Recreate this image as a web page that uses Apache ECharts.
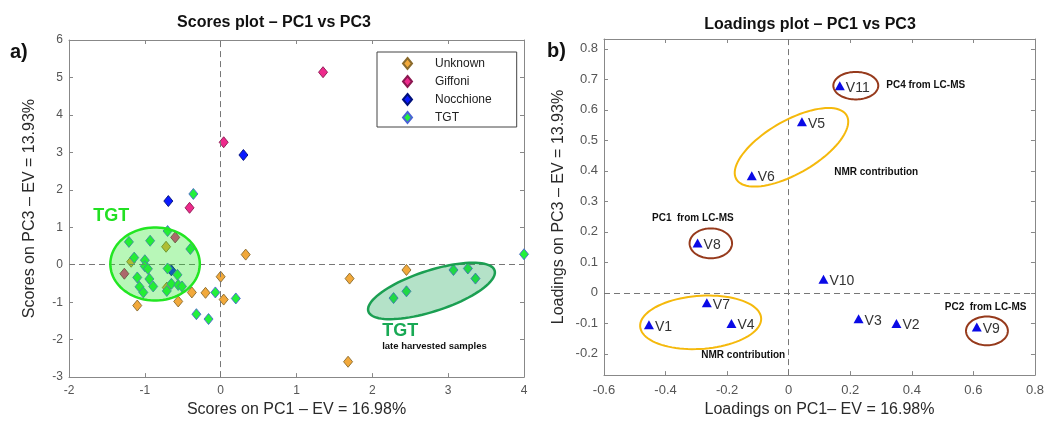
<!DOCTYPE html>
<html>
<head>
<meta charset="utf-8">
<script src="https://cdn.jsdelivr.net/npm/echarts@6/dist/echarts.min.js"></script>
<style>
  html, body { margin: 0; background: #fff; }
  #chart { width: 1047px; height: 423px; }
</style>
</head>
<body>
<div id="chart"></div>
<script>
const FONT = '"Liberation Sans", Arial, Helvetica, sans-serif';

// scores plot, PC1 vs PC3 - one array per class
const unknownScores = [
  [0.33, 0.27], [1.70, -0.37], [1.68, -2.59], [2.45, -0.14], [0.00, -0.32],
  [0.04, -0.93], [-0.20, -0.75], [-0.38, -0.74], [-0.56, -0.98], [-1.10, -1.09],
  [-0.72, 0.48], [-1.18, 0.08], [-0.71, -0.61]
];
const giffoniScores = [
  [1.35, 5.14], [0.04, 3.27], [-0.41, 1.52], [-0.60, 0.73], [-1.27, -0.24]
];
const nocchioneScores = [
  [0.30, 2.93], [-0.69, 1.70], [-0.65, -0.15]
];
const tgtScores = [
  [-0.36, 1.89], [4.00, 0.28], [3.07, -0.14], [3.26, -0.10], [3.36, -0.37],
  [2.45, -0.71], [2.28, -0.89], [0.20, -0.90], [-0.07, -0.74], [-0.16, -1.45],
  [-0.32, -1.32], [-1.21, 0.61], [-1.14, 0.19], [-0.93, 0.64], [-1.00, 0.12],
  [-1.00, -0.04], [-0.96, -0.11], [-1.10, -0.34], [-0.94, -0.38], [-1.07, -0.59],
  [-1.02, -0.74], [-0.89, -0.58], [-0.70, 0.90], [-0.40, 0.42], [-0.70, -0.10],
  [-0.57, -0.27], [-0.65, -0.51], [-0.56, -0.54], [-0.51, -0.58], [-0.71, -0.70]
];

// loadings plot, PC1 vs PC3
const loadNames = ['V1', 'V2', 'V3', 'V4', 'V5', 'V6', 'V7', 'V8', 'V9', 'V10', 'V11'];
const loadPC1 = [-0.454, 0.350, 0.227, -0.186, 0.043, -0.120, -0.266, -0.296, 0.611, 0.113, 0.166];
const loadPC3 = [-0.105, -0.101, -0.085, -0.101, 0.561, 0.384, -0.033, 0.163, -0.112, 0.044, 0.679];

const loadTicksY = [-0.2, -0.1, 0, 0.1, 0.2, 0.3, 0.4, 0.5, 0.6, 0.7, 0.8];

// hand drawn rings: centre x, centre y, half axis (x units), half axis (y units), tilt deg
const scoreRings = [[-0.865, 0.02, 0.59, 0.976, 0], [2.78, -0.70, 0.875, 0.545, 18]];
const scoreRingStyle = [
  { fill: 'rgba(40,232,40,0.33)', stroke: '#22e622', width: 2.5 },
  { fill: 'rgba(28,168,88,0.33)', stroke: '#1b9f52', width: 2.5 }
];
const loadRings = [
  [0.009, 0.477, 0.207, 0.087, 30], [-0.286, -0.097, 0.197, 0.087, 4],
  [0.218, 0.679, 0.073, 0.045, 0], [-0.253, 0.162, 0.069, 0.049, 0], [0.644, -0.125, 0.068, 0.047, 0]
];
const yellow = { fill: 'none', stroke: '#f5b90c', width: 2 };
const brown = { fill: 'none', stroke: '#963a1c', width: 2 };
const loadRingStyle = [yellow, yellow, brown, brown, brown];

const scoreNotes = [
  { text: 'TGT', x: -1.68, y: 1.30, font: 'bold 18px ' + FONT, color: '#22e022' },
  { text: 'TGT', x: 2.13, y: -1.77, font: 'bold 18px ' + FONT, color: '#19a955' },
  { text: 'late harvested samples', x: 2.13, y: -2.19, font: 'bold 9.5px ' + FONT, color: '#111' }
];
const noteFont = 'bold 10px ' + FONT;
const loadNotes = [
  { text: 'PC4 from LC-MS', x: 0.317, y: 0.680, font: noteFont, color: '#111' },
  { text: 'NMR contribution', x: 0.148, y: 0.395, font: noteFont, color: '#111' },
  { text: 'PC1  from LC-MS', x: -0.444, y: 0.243, font: noteFont, color: '#111' },
  { text: 'PC2  from LC-MS', x: 0.507, y: -0.046, font: noteFont, color: '#111' },
  { text: 'NMR contribution', x: -0.284, y: -0.205, font: noteFont, color: '#111' }
];

const chart = echarts.init(document.getElementById('chart'));

function ringItem(styles) {
  return function (params, api) {
    const c = api.coord([api.value(0), api.value(1)]);
    const rx = api.size([api.value(2), 0])[0];
    const ry = api.size([0, api.value(3)])[1];
    const t = api.value(4) * Math.PI / 180;
    const pts = [];
    for (let i = 0; i < 90; i++) {
      const a = i / 90 * Math.PI * 2;
      const ex = rx * Math.cos(a), ey = ry * Math.sin(a);
      pts.push([c[0] + ex * Math.cos(t) - ey * Math.sin(t), c[1] - (ex * Math.sin(t) + ey * Math.cos(t))]);
    }
    const s = styles[params.dataIndex];
    return { type: 'polygon', shape: { points: pts }, style: { fill: s.fill, stroke: s.stroke, lineWidth: s.width } };
  };
}

function noteItem(notes) {
  return function (params, api) {
    const n = notes[params.dataIndex];
    const c = api.coord([api.value(0), api.value(1)]);
    return {
      type: 'text', x: c[0], y: c[1],
      style: { text: n.text, font: n.font, fill: n.color, verticalAlign: 'middle', textVerticalAlign: 'middle' }
    };
  };
}

const axisColor = '#888';
function xAxisOf(grid, pos, min, max, interval, extra) {
  return Object.assign({
    type: 'value', gridIndex: grid, position: pos, min: min, max: max, interval: interval,
    axisLine: { show: true, onZero: false, lineStyle: { color: axisColor } },
    axisTick: { show: true, inside: true, length: 4, lineStyle: { color: axisColor } },
    axisLabel: { show: pos === 'bottom', color: '#555', fontFamily: FONT },
    splitLine: { show: false }
  }, extra);
}
function yAxisOf(grid, pos, min, max, interval, extra) {
  return Object.assign({
    type: 'value', gridIndex: grid, position: pos, min: min, max: max, interval: interval,
    axisLine: { show: true, onZero: false, lineStyle: { color: axisColor } },
    axisTick: { show: true, inside: true, length: 4, lineStyle: { color: axisColor } },
    axisLabel: { show: pos === 'left', color: '#555', fontFamily: FONT },
    splitLine: { show: false }
  }, extra);
}

const nameStyle = { fontSize: 16, color: '#2a2a2a', fontFamily: FONT };
const zeroLine = {
  silent: true, symbol: 'none', label: { show: false },
  lineStyle: { color: '#777', type: [6, 4], width: 1 },
  data: [{ xAxis: 0 }, { yAxis: 0 }]
};

function diamonds(name, data, fill, edge) {
  return {
    name: name, type: 'scatter', xAxisIndex: 0, yAxisIndex: 0, data: data,
    symbol: 'diamond', symbolSize: [9, 11],
    itemStyle: { color: fill, borderColor: edge, borderWidth: 0.9, opacity: 1 },
    z: 3
  };
}

const option = {
  animation: false,
  textStyle: { fontFamily: FONT },
  grid: [
    { left: 69, top: 40, width: 455, height: 338 },
    { left: 604, top: 39, width: 433, height: 341 }
  ],
  xAxis: [
    xAxisOf(0, 'bottom', -2, 4, 1, {
      name: 'Scores on PC1 – EV = 16.98%', nameLocation: 'middle', nameGap: 23, nameTextStyle: nameStyle,
      axisLabel: { show: true, color: '#555', fontSize: 12, margin: 8, fontFamily: FONT }
    }),
    xAxisOf(0, 'top', -2, 4, 1),
    xAxisOf(1, 'bottom', -0.6, 0.8, 0.2, {
      name: 'Loadings on PC1– EV = 16.98%', nameLocation: 'middle', nameGap: 24, nameTextStyle: nameStyle,
      axisLabel: { show: true, color: '#555', fontSize: 13, margin: 9, fontFamily: FONT }
    }),
    xAxisOf(1, 'top', -0.6, 0.8, 0.2)
  ],
  yAxis: [
    yAxisOf(0, 'left', -3, 6, 1, {
      name: 'Scores on PC3 – EV = 13.93%', nameLocation: 'middle', nameGap: 31, nameTextStyle: nameStyle,
      axisLabel: { show: true, color: '#555', fontSize: 12, margin: 6, fontFamily: FONT }
    }),
    yAxisOf(0, 'right', -3, 6, 1),
    yAxisOf(1, 'left', -0.27, 0.832, null, {
      name: 'Loadings on PC3 – EV = 13.93%', nameLocation: 'middle', nameGap: 37, nameTextStyle: nameStyle,
      axisLabel: { show: true, color: '#555', fontSize: 13, margin: 6, fontFamily: FONT, customValues: loadTicksY },
      axisTick: { show: true, inside: true, length: 4, lineStyle: { color: axisColor }, customValues: loadTicksY }
    }),
    yAxisOf(1, 'right', -0.27, 0.832, null, {
      axisTick: { show: true, inside: true, length: 4, lineStyle: { color: axisColor }, customValues: loadTicksY }
    })
  ],
  legend: {
    data: ['Unknown', 'Giffoni', 'Nocchione', 'TGT'],
    orient: 'vertical', left: 377, top: 52,
    padding: [5, 25, 3, 25],
    itemWidth: 9, itemHeight: 11, itemGap: 5,
    borderColor: '#444', borderWidth: 1,
    textStyle: { fontSize: 12, color: '#222', fontFamily: FONT, lineHeight: 11, padding: [0, 0, 0, 18] }
  },
  graphic: [
    { type: 'text', x: 274, y: 23, style: { text: 'Scores plot – PC1 vs PC3', font: 'bold 16px ' + FONT, fill: '#111', align: 'center', textAlign: 'center', verticalAlign: 'middle', textVerticalAlign: 'middle' } },
    { type: 'text', x: 810, y: 25, style: { text: 'Loadings plot – PC1 vs PC3', font: 'bold 16px ' + FONT, fill: '#111', align: 'center', textAlign: 'center', verticalAlign: 'middle', textVerticalAlign: 'middle' } },
    { type: 'text', x: 10, y: 52, style: { text: 'a)', font: 'bold 20px ' + FONT, fill: '#111', verticalAlign: 'middle', textVerticalAlign: 'middle' } },
    { type: 'text', x: 547, y: 51, style: { text: 'b)', font: 'bold 20px ' + FONT, fill: '#111', verticalAlign: 'middle', textVerticalAlign: 'middle' } }
  ],
  series: [
    Object.assign(diamonds('Unknown', unknownScores, '#f2a93b', '#8a6a2c'), { markLine: zeroLine }),
    diamonds('Giffoni', giffoniScores, '#ee2a8c', '#8a1850'),
    diamonds('Nocchione', nocchioneScores, '#0a1aff', '#00107a'),
    diamonds('TGT', tgtScores, '#22f03c', '#4a64d4'),
    {
      type: 'custom', xAxisIndex: 0, yAxisIndex: 0, z: 5, silent: true, clip: false,
      renderItem: ringItem(scoreRingStyle), data: scoreRings
    },
    {
      type: 'custom', xAxisIndex: 0, yAxisIndex: 0, z: 6, silent: true, clip: false,
      renderItem: noteItem(scoreNotes), data: scoreNotes.map(n => [n.x, n.y])
    },
    {
      name: 'loadings', type: 'scatter', xAxisIndex: 2, yAxisIndex: 2,
      data: loadNames.map((n, i) => ({ name: n, value: [loadPC1[i], loadPC3[i]] })),
      symbol: 'triangle', symbolSize: [10, 9],
      itemStyle: { color: '#0a0ae6', opacity: 1 },
      label: {
        show: true, position: 'right', distance: 1, offset: [0, 2],
        formatter: p => p.name, fontSize: 14, color: '#333', fontFamily: FONT
      },
      markLine: zeroLine,
      z: 4
    },
    {
      type: 'custom', xAxisIndex: 2, yAxisIndex: 2, z: 5, silent: true, clip: false,
      renderItem: ringItem(loadRingStyle), data: loadRings
    },
    {
      type: 'custom', xAxisIndex: 2, yAxisIndex: 2, z: 6, silent: true, clip: false,
      renderItem: noteItem(loadNotes), data: loadNotes.map(n => [n.x, n.y])
    }
  ]
};

chart.setOption(option);
window.addEventListener('resize', () => chart.resize());
</script>
</body>
</html>
